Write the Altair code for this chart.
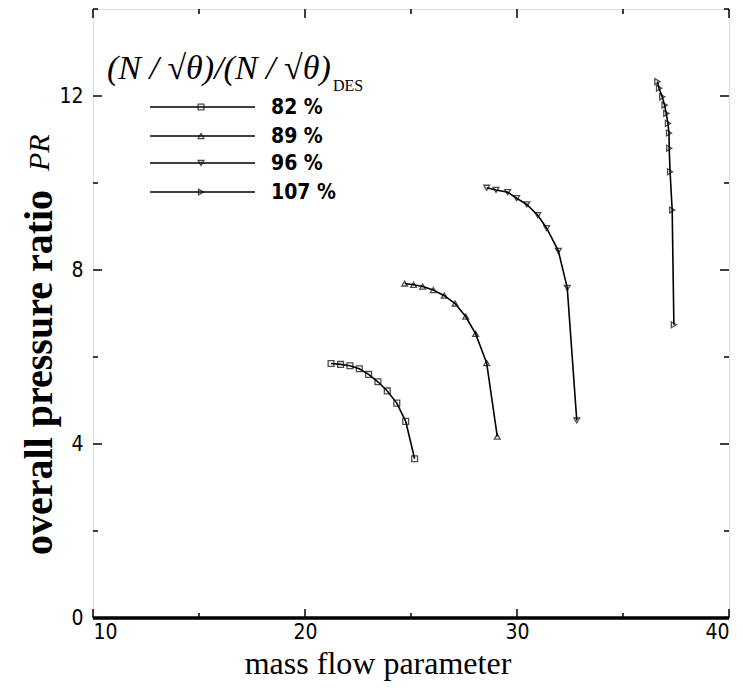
import altair as alt
import pandas as pd

# ---- data ----
series_labels = ["82 %", "89 %", "96 %", "107 %"]
series_shapes = ["square", "triangle-up", "triangle-down", "triangle-right"]

mfp_82 = [21.23, 21.68, 22.12, 22.56, 23.00, 23.44, 23.88, 24.33, 24.75, 25.17]
pr_82 = [5.85, 5.83, 5.80, 5.73, 5.60, 5.43, 5.22, 4.94, 4.52, 3.66]

mfp_89 = [24.70, 25.12, 25.55, 26.05, 26.57, 27.08, 27.58, 28.05, 28.57, 29.07]
pr_89 = [7.69, 7.66, 7.62, 7.54, 7.41, 7.23, 6.93, 6.53, 5.86, 4.17]

mfp_96 = [28.57, 29.01, 29.56, 29.98, 30.46, 30.98, 31.40, 31.95, 32.37, 32.82]
pr_96 = [9.89, 9.84, 9.79, 9.65, 9.51, 9.26, 8.96, 8.44, 7.59, 4.54]

mfp_107 = [36.62, 36.70, 36.85, 36.96, 37.04, 37.12, 37.17, 37.18, 37.22, 37.32, 37.40]
pr_107 = [12.33, 12.18, 11.98, 11.79, 11.60, 11.37, 11.15, 10.80, 10.26, 9.38, 6.74]

x_major = [10, 20, 30, 40]
x_minor = [15, 25, 35]
y_major = [0, 4, 8, 12]
y_minor = [2, 6, 10, 14]

W, H = 636, 609
SERIF = "Liberation Serif"
NARROW = "Liberation Sans Narrow, DejaVu Sans Condensed, sans-serif"

xs = alt.Scale(domain=[10, 40], nice=False, zero=False)
ys = alt.Scale(domain=[0, 14], nice=False, zero=False)

all_x = [mfp_82, mfp_89, mfp_96, mfp_107]
all_y = [pr_82, pr_89, pr_96, pr_107]

layers = []

axis_df = pd.DataFrame({"x": [10, 40], "y": [0, 14]})
base = alt.Chart(axis_df).mark_point(opacity=0).encode(
    x=alt.X("x:Q", scale=xs, axis=alt.Axis(
        values=x_major, ticks=False, grid=False, domain=False,
        labelFont=NARROW, labelFontSize=21, labelColor="black", labelPadding=3,
        title=None)),
    y=alt.Y("y:Q", scale=ys, axis=alt.Axis(
        values=y_major, ticks=False, grid=False, domain=False,
        labelFont=NARROW, labelFontSize=21, labelColor="black", labelPadding=10,
        title=None)),
)
layers.append(base)

for lab, shp, xv, yv in zip(series_labels, series_shapes, all_x, all_y):
    df = pd.DataFrame({"mfp": xv, "pr": yv, "s": lab})
    ln = alt.Chart(df).mark_line(color="black", strokeWidth=1.6).encode(
        x=alt.X("mfp:Q", scale=xs), y=alt.Y("pr:Q", scale=ys))
    pt = alt.Chart(df).mark_point(shape=shp, filled=False, color="black",
                                  size=34, strokeWidth=1.3).encode(
        x=alt.X("mfp:Q", scale=xs), y=alt.Y("pr:Q", scale=ys))
    layers += [ln, pt]

def xticks(vals, length):
    df = pd.DataFrame({"v": vals})
    b = alt.Chart(df).mark_rule(color="black", strokeWidth=1.5).encode(
        x=alt.X("v:Q", scale=xs), y=alt.value(H), y2=alt.value(H - length))
    t = alt.Chart(df).mark_rule(color="black", strokeWidth=1.5).encode(
        x=alt.X("v:Q", scale=xs), y=alt.value(0), y2=alt.value(length))
    return [b, t]

def yticks(vals, length):
    df = pd.DataFrame({"v": vals})
    l = alt.Chart(df).mark_rule(color="black", strokeWidth=1.5).encode(
        y=alt.Y("v:Q", scale=ys), x=alt.value(0), x2=alt.value(length))
    r = alt.Chart(df).mark_rule(color="black", strokeWidth=1.5).encode(
        y=alt.Y("v:Q", scale=ys), x=alt.value(W), x2=alt.value(W - length))
    return [l, r]

layers += xticks(x_major, 9) + xticks(x_minor, 5) + yticks(y_major, 9) + yticks(y_minor, 5)

layers.append(alt.Chart(axis_df).mark_rule(color="black", strokeWidth=3).encode(
    x=alt.value(0), x2=alt.value(W), y=alt.value(H)))

# legend
leg_y = [98, 127, 154, 183]
for lab, shp, ly in zip(series_labels, series_shapes, leg_y):
    d = pd.DataFrame({"s": [lab]})
    layers.append(alt.Chart(d).mark_rule(color="black", strokeWidth=1.5).encode(
        x=alt.value(57), x2=alt.value(162), y=alt.value(ly)))
    layers.append(alt.Chart(d).mark_point(shape=shp, filled=False, color="black",
                                          size=34, strokeWidth=1.3).encode(
        x=alt.value(108), y=alt.value(ly)))
    layers.append(alt.Chart(d).mark_text(font=NARROW, fontSize=21, fontWeight="bold",
                                         align="left", baseline="middle", color="black").encode(
        x=alt.value(178), y=alt.value(ly + 1), text="s:N"))

tdf = pd.DataFrame({"t": ["(N / \u221a\u03b8)/(N / \u221a\u03b8)"]})
layers.append(alt.Chart(tdf).mark_text(font=SERIF, fontSize=34, fontStyle="italic",
                                       align="left", baseline="middle", color="black").encode(
    x=alt.value(14), y=alt.value(60), text="t:N"))
ddf = pd.DataFrame({"t": ["DES"]})
layers.append(alt.Chart(ddf).mark_text(font=SERIF, fontSize=16, align="left",
                                       baseline="middle", color="black").encode(
    x=alt.value(240), y=alt.value(77), text="t:N"))

# x axis title
xt = pd.DataFrame({"t": ["mass flow parameter"]})
layers.append(alt.Chart(xt).mark_text(font=SERIF, fontSize=32, align="center",
                                      baseline="middle", color="black").encode(
    x=alt.value(285), y=alt.value(655), text="t:N"))

# y axis title (with italic PR)
yt1 = pd.DataFrame({"t": ["overall pressure ratio"]})
layers.append(alt.Chart(yt1).mark_text(font=SERIF, fontSize=40, fontWeight="bold", angle=270,
                                       align="left", baseline="middle", color="black").encode(
    x=alt.value(-53), y=alt.value(546), text="t:N"))
yt2 = pd.DataFrame({"t": ["PR"]})
layers.append(alt.Chart(yt2).mark_text(font=SERIF, fontSize=30, fontStyle="italic", angle=270,
                                       align="left", baseline="middle", color="black").encode(
    x=alt.value(-53), y=alt.value(162), text="t:N"))

chart = alt.layer(*layers).properties(
    width=W, height=H,
    padding={"left": 85, "top": 1, "right": 4, "bottom": 72},
    autosize=alt.AutoSizeParams(type="none"),
).configure_view(stroke="black", strokeWidth=2).configure(background="white")

chart.save("out.html", embed_options={"renderer": "svg", "actions": False})
